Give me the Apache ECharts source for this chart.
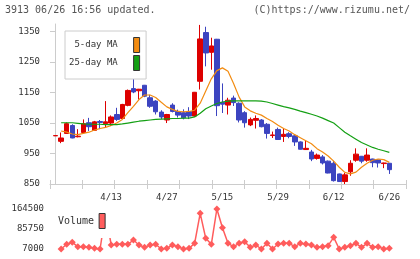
<!DOCTYPE html>
<html>
<head>
<meta charset="utf-8">
<script src="https://cdn.jsdelivr.net/npm/echarts@6/dist/echarts.min.js"></script>
<style>
html,body{margin:0;padding:0;background:#fff;}
#c{width:420px;height:259px;}
</style>
</head>
<body>
<div id="c"></div>
<script>
const dates = ['3/30','3/31','4/1','4/2','4/3','4/6','4/7','4/8','4/9','4/10',
  '4/13','4/14','4/15','4/16','4/17','4/20','4/21','4/22','4/23','4/24',
  '4/27','4/28','4/30','5/1','5/7','5/8','5/11','5/12','5/13','5/14',
  '5/15','5/18','5/19','5/20','5/21','5/22','5/25','5/26','5/27','5/28',
  '5/29','6/1','6/2','6/3','6/4','6/5','6/8','6/9','6/10','6/11',
  '6/12','6/15','6/16','6/17','6/18','6/19','6/22','6/23','6/24','6/25','6/26'];
const labelDates = ['4/13','4/27','5/15','5/29','6/12','6/26'];
const opens  = [1008,990,1016,1042,1005,1019,1051,1026,1055,1048,
  1050,1078,1065,1108,1163,1156,1174,1133,1122,1086,
  1060,1109,1088,1084,1088,1073,1187,1347,1282,1325,
  1118,1109,1132,1115,1084,1044,1059,1060,1046,1009,
  1029,1006,1015,1008,988,963,955,934,939,925,
  918,883,858,890,928,941,928,932,929,917,918];
const closes = [1009,1001,1048,1001,1007,1048,1038,1054,1052,1054,
  1070,1062,1111,1157,1152,1161,1138,1105,1087,1070,
  1078,1088,1076,1067,1073,1151,1326,1280,1303,1107,
  1112,1125,1117,1060,1051,1062,1065,1038,1016,1011,
  996,1013,1006,988,964,967,932,945,919,886,
  861,858,880,918,948,925,945,920,919,919,897];
const lows   = [1008,984,1015,1000,1003,1016,1024,1024,1030,1035,
  1040,1057,1063,1105,1148,1127,1135,1100,1078,1063,
  1050,1085,1068,1062,1063,1070,1160,1236,1225,1073,
  1083,1078,1106,1052,1035,1040,1032,1036,999,1001,
  995,988,1000,975,963,962,925,930,914,885,
  858,857,850,877,923,918,923,905,904,902,883];
const highs  = [1010,1019,1052,1046,1030,1062,1067,1057,1060,1122,
  1075,1100,1113,1160,1200,1162,1175,1143,1125,1092,
  1080,1115,1094,1095,1102,1152,1372,1366,1330,1326,
  1180,1133,1140,1118,1089,1068,1075,1063,1050,1022,
  1035,1032,1020,1013,990,994,962,950,945,927,
  926,884,886,928,967,942,967,933,931,920,919];
const ma5 = [null,1024,1020,1014,1012,1016,1020,1027,1032,1036,
  1042,1050,1062,1084,1105,1127,1142,1142,1134,1118,
  1103,1095,1088,1087,1088,1092,1115,1155,1195,1222,
  1231,1220,1180,1135,1103,1090,1082,1076,1065,1055,
  1043,1032,1024,1012,1002,992,982,966,955,942,
  925,905,888,883,889,905,918,928,932,930,921];
const ma25 = [null,1051,1051,1051,1049,1047,1046,1046,1046,1045,
  1045,1045,1047,1050,1053,1056,1058,1060,1062,1063,
  1064,1065,1065,1066,1066,1070,1082,1097,1106,1114,
  1119,1122,1123,1123,1123,1123,1123,1122,1119,1114,
  1109,1104,1100,1095,1089,1084,1079,1073,1066,1058,
  1050,1035,1020,1008,997,986,978,970,964,959,954];
const volume = [null,7000,25500,33400,16200,16200,13500,9600,7000,150000,
  22750,25500,25500,25500,42400,22750,13500,22750,25500,7000,
  9600,22750,16200,7000,9600,29400,147600,49000,25500,164500,
  90900,29400,16200,29400,35800,13500,22750,7000,29400,7000,
  26700,29400,29400,16200,29400,26700,22750,13500,16200,20000,
  53000,7000,13500,20000,29400,13500,29400,13500,16200,7000,9600];
const priceTicks = [850,950,1050,1150,1250,1350];
const volumeTicks = [7000,85750,164500];

const MONO = 'DejaVu Sans Mono';
const UP = '#dd0000', DOWN = '#3c44c0';
const ORANGE = '#f28c12', GREEN = '#14a014', VOLC = '#ff5c5c';

const chart = echarts.init(document.getElementById('c'), null, {renderer: 'canvas'});
const pts = arr => arr.map((v, i) => [i, v]).filter(p => p[1] != null);
const plain = v => String(v);

chart.setOption({
  animation: false,
  backgroundColor: '#fff',
  title: [
    {text: '3913 06/26 16:56 updated.', left: 5, top: 5, padding: 0,
     textStyle: {fontFamily: MONO, fontSize: 10, fontWeight: 'normal', color: '#555'}},
    {text: '(C)https://www.rizumu.net/', right: 10, top: 5, padding: 0,
     textStyle: {fontFamily: MONO, fontSize: 10, fontWeight: 'normal', color: '#555'}}
  ],
  legend: [
    {data: ['5-day MA', '25-day MA'], left: 65, top: 31, orient: 'vertical', align: 'right',
     icon: 'rect', itemWidth: 6, itemHeight: 15, itemGap: 2, padding: [6, 6, 8, 4],
     borderColor: '#ccc', borderWidth: 1, backgroundColor: '#fff',
     itemStyle: {borderColor: '#333', borderWidth: 1},
     formatter: n => n + '  ',
     textStyle: {fontFamily: MONO, fontSize: 9, color: '#333'}},
    {data: ['Volume'], left: 55, top: 209, orient: 'vertical', align: 'right',
     icon: 'rect', itemWidth: 6, itemHeight: 15, padding: [4, 6, 9, 3],
     backgroundColor: '#fff', z: 10,
     itemStyle: {borderColor: '#333', borderWidth: 1},
     textStyle: {fontFamily: MONO, fontSize: 10, color: '#333'}}
  ],
  grid: [
    {left: 50, right: 14, top: 24, height: 160},
    {left: 50, right: 14, top: 209, height: 40}
  ],
  xAxis: [
    {type: 'value', gridIndex: 0, min: -1, max: 63, interval: 1,
     axisLine: {show: true, lineStyle: {color: '#ccc', width: 1}}, axisTick: {show: false},
     splitLine: {show: false},
     axisLabel: {interval: 0, margin: 9, color: '#333', fontFamily: MONO, fontSize: 9,
       formatter: v => (labelDates.indexOf(dates[v]) >= 0 ? dates[v] : '')}},
    {type: 'value', gridIndex: 0, min: 0, max: 11, interval: 1, position: 'bottom',
     axisLine: {show: false}, axisLabel: {show: false}, splitLine: {show: false},
     axisTick: {show: true, length: 5, lineStyle: {color: '#ccc'}}},
    {type: 'value', gridIndex: 0, min: 0, max: 11, interval: 1, position: 'bottom',
     axisLine: {show: false}, axisLabel: {show: false}, splitLine: {show: false},
     axisTick: {show: true, inside: true, length: 4, lineStyle: {color: '#ccc'}}},
    {type: 'value', gridIndex: 1, min: -1, max: 63, show: false}
  ],
  yAxis: [
    {type: 'value', gridIndex: 0, min: 850, max: 1375, position: 'left',
     axisLine: {show: true, lineStyle: {color: '#ccc'}}, splitLine: {show: false},
     axisTick: {show: true, length: 5, customValues: priceTicks, lineStyle: {color: '#ccc'}},
     axisLabel: {customValues: priceTicks, margin: 10, color: '#333', fontFamily: MONO, fontSize: 9, formatter: plain}},
    {type: 'value', gridIndex: 0, min: 850, max: 1375, position: 'left',
     axisLine: {show: false}, splitLine: {show: false}, axisLabel: {show: false},
     axisTick: {show: true, inside: true, length: 3, customValues: priceTicks, lineStyle: {color: '#ccc'}}},
    {type: 'value', gridIndex: 1, min: 7000, max: 164500, position: 'left',
     axisLine: {show: false}, axisTick: {show: false}, splitLine: {show: false},
     axisLabel: {customValues: volumeTicks, margin: 6, color: '#333', fontFamily: MONO, fontSize: 9, formatter: plain}}
  ],
  series: [
    {type: 'candlestick', xAxisIndex: 0, yAxisIndex: 0, barWidth: 5,
     encode: {x: 0, y: [1, 2, 3, 4]},
     data: dates.map((d, i) => [i, opens[i], closes[i], lows[i], highs[i]]),
     itemStyle: {color: UP, color0: DOWN, borderColor: UP, borderColor0: DOWN, borderWidth: 1}},
    {type: 'line', name: '5-day MA', xAxisIndex: 0, yAxisIndex: 0, data: pts(ma5),
     showSymbol: false, symbol: 'none', color: ORANGE, lineStyle: {color: ORANGE, width: 1.2}},
    {type: 'line', name: '25-day MA', xAxisIndex: 0, yAxisIndex: 0, data: pts(ma25),
     showSymbol: false, symbol: 'none', color: GREEN, lineStyle: {color: GREEN, width: 1.2}},
    {type: 'line', name: 'Volume', xAxisIndex: 3, yAxisIndex: 2, data: pts(volume),
     clip: false, symbol: 'diamond', symbolSize: [7, 7], color: VOLC,
     itemStyle: {color: VOLC}, lineStyle: {color: VOLC, width: 1.5}}
  ]
});
</script>
</body>
</html>
